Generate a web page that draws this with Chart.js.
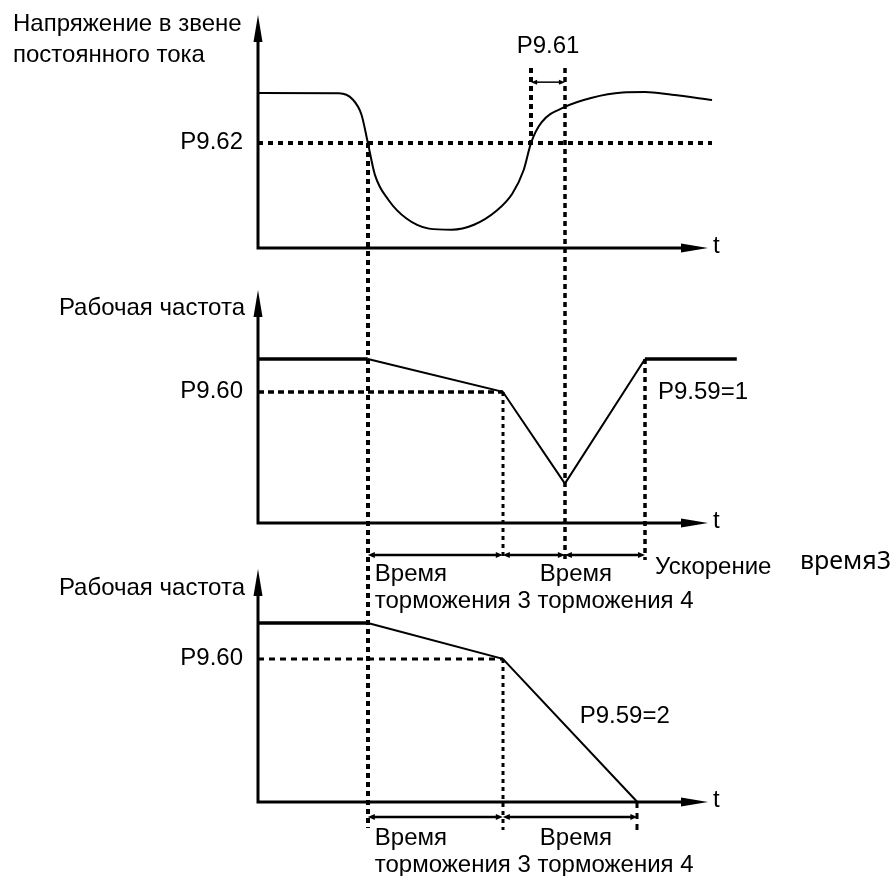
<!DOCTYPE html>
<html>
<head>
<meta charset="utf-8">
<script src="https://cdn.jsdelivr.net/npm/chart.js@4.4.1/dist/chart.umd.min.js"></script>
<style>
  html, body { margin: 0; padding: 0; background: #fff; }
  canvas { display: block; }
</style>
</head>
<body>
<canvas id="myChart" width="894" height="876"></canvas>
<script>
// DC bus voltage (% of nominal) against time (t axis runs 0..10)
const busTime    = [0, 1.8, 2.1, 2.3, 2.44, 2.6, 2.9, 3.3, 3.8, 4.3, 4.8, 5.3, 5.65, 5.9, 6.07, 6.3, 6.82, 7.4, 8.1, 8.6, 9.2, 10.09];
const busVoltage = [100, 99.8, 96, 86, 68, 47, 31, 19, 12.5, 11.8, 15, 24, 35, 50, 68, 81, 91, 96.8, 100.3, 100.6, 98.8, 95.5];

// running frequency, P9.59=1 (recovers) and P9.59=2 (stops)
const freqTime1 = [0, 2.44, 5.44, 6.82, 8.6, 10.64];
const freqHz1   = [50, 50, 40, 12, 50, 50];
const freqTime2 = [0, 2.44, 5.44, 8.43];
const freqHz2   = [50, 50, 40, 0];

// threshold levels
const levelNames = ['P9.62', 'P9.60', 'P9.61'];
const P962 = 68;      // voltage level
const P960 = 40;      // frequency level
const P961Top = 116;  // top of the P9.61 bracket, voltage units
const P961Arrow = 107;

// text
const axisTitles = [['Напряжение в звене', 'постоянного тока'], 'Рабочая частота', 'Рабочая частота'];
const modeLabels = ['P9.59=1', 'P9.59=2'];
const spanLabels = ['Время', 'торможения 3 торможения 4', 'Ускорение', 'время3'];
const timeLabel = 't';

// layout
const H = 876;
const T_END = 10;
const panels = [
    { id: 'y1', base: 248, unit: 1.55 },
    { id: 'y2', base: 523, unit: 3.28 },
    { id: 'y3', base: 802, unit: 3.58 }
];
const FONT = '24px "Liberation Sans", Arial, sans-serif';

function pts(xs, ys) {
    return xs.map(function(x, i) { return { x: x, y: ys[i] }; });
}

function yRange(p) {
    return { min: -(H - p.base) / p.unit, max: p.base / p.unit };
}

function dotted(g, x1, y1, x2, y2, w, dash) {
    g.save();
    g.strokeStyle = '#000';
    g.lineWidth = w;
    g.setLineDash(dash);
    g.beginPath();
    g.moveTo(Math.round(x1), Math.round(y1));
    g.lineTo(Math.round(x2), Math.round(y2));
    g.stroke();
    g.restore();
}

function head(g, x, y, dx, dy, len, half) {
    // tip at (x,y), pointing in direction (dx,dy)
    const bx = x - dx * len, by = y - dy * len;
    g.beginPath();
    g.moveTo(x, y);
    g.lineTo(bx - dy * half, by + dx * half);
    g.lineTo(bx + dy * half, by - dx * half);
    g.closePath();
    g.fill();
}

function dimArrow(g, xa, xb, y, w, len, half) {
    g.save();
    g.fillStyle = '#000';
    g.strokeStyle = '#000';
    g.lineWidth = w;
    g.beginPath();
    g.moveTo(xa + len - 1, y);
    g.lineTo(xb - len + 1, y);
    g.stroke();
    head(g, xa, y, -1, 0, len, half);
    head(g, xb, y, 1, 0, len, half);
    g.restore();
}

function text(g, s, x, y, align) {
    g.textAlign = align || 'left';
    g.fillText(s, x, y);
}

const diagramDecor = {
    id: 'diagramDecor',
    beforeDatasetsDraw(chart) {
        const g = chart.ctx;
        const xs = chart.scales.x, y1 = chart.scales.y1, y2 = chart.scales.y2, y3 = chart.scales.y3;
        const X = function(t) { return xs.getPixelForValue(t); };
        const tBrake = freqTime1[1], tKnee = freqTime1[2], tMin = freqTime1[3];
        const tAccEnd = freqTime1[4], tStop = freqTime2[3], tRecover = busTime[14];
        const b2 = y2.getPixelForValue(0), b3 = y3.getPixelForValue(0);

        // panel 1 guides
        dotted(g, X(0), y1.getPixelForValue(P962), X(busTime[busTime.length - 1]), y1.getPixelForValue(P962), 4, [5, 5]);
        dotted(g, X(tBrake), y1.getPixelForValue(P962), X(tBrake), b3 + 26, 4, [5, 4]);
        dotted(g, X(tRecover), y1.getPixelForValue(P961Top), X(tRecover), y1.getPixelForValue(P962), 4, [5, 4]);
        dotted(g, X(tMin), y1.getPixelForValue(P961Top), X(tMin), b2 + 37, 3.5, [5, 4]);

        // panel 2 guides
        dotted(g, X(0), y2.getPixelForValue(P960), X(tKnee), y2.getPixelForValue(P960), 3.5, [6, 4]);
        dotted(g, X(tKnee), y2.getPixelForValue(P960), X(tKnee), b2 + 37, 3, [4, 4]);
        dotted(g, X(tAccEnd), y2.getPixelForValue(freqHz1[4]), X(tAccEnd), b2 + 37, 3.5, [5, 4]);

        // panel 3 guides
        dotted(g, X(0), y3.getPixelForValue(P960), X(tKnee), y3.getPixelForValue(P960), 3, [6, 5]);
        dotted(g, X(tKnee), y3.getPixelForValue(P960), X(tKnee), b3 + 28, 3, [4, 4]);
        dotted(g, X(tStop), b3, X(tStop), b3 + 28, 3, [6, 5]);
    },
    afterDatasetsDraw(chart) {
        const g = chart.ctx;
        const xs = chart.scales.x;
        const X = function(t) { return xs.getPixelForValue(t); };
        const tBrake = freqTime1[1], tKnee = freqTime1[2], tMin = freqTime1[3];
        const tAccEnd = freqTime1[4], tStop = freqTime2[3], tRecover = busTime[14];

        g.save();
        g.fillStyle = '#000';
        g.strokeStyle = '#000';

        // axes with arrows
        panels.forEach(function(p) {
            const ys = chart.scales[p.id];
            const base = ys.getPixelForValue(0);
            const x0 = X(0), xEnd = X(T_END), top = base - 233;
            g.lineWidth = 3;
            g.lineJoin = 'miter';
            g.beginPath();
            g.moveTo(x0, top + 24);
            g.lineTo(x0, base);
            g.lineTo(xEnd - 24, base);
            g.stroke();
            head(g, x0, top, 0, -1, 27, 4.5);
            head(g, xEnd, base, 1, 0, 27, 4.5);
        });

        const y1 = chart.scales.y1, y2 = chart.scales.y2, y3 = chart.scales.y3;
        const b1 = y1.getPixelForValue(0), b2 = y2.getPixelForValue(0), b3 = y3.getPixelForValue(0);

        // dimension arrows
        dimArrow(g, X(tRecover), X(tMin), y1.getPixelForValue(P961Arrow), 1.5, 6, 2.5);
        dimArrow(g, X(tBrake), X(tKnee), b2 + 32, 2.5, 7, 3);
        dimArrow(g, X(tKnee), X(tMin), b2 + 32, 2.5, 7, 3);
        dimArrow(g, X(tMin), X(tAccEnd), b2 + 32, 2.5, 7, 3);
        dimArrow(g, X(tBrake), X(tKnee), b3 + 15, 2.5, 7, 3);
        dimArrow(g, X(tKnee), X(tStop), b3 + 15, 2.5, 7, 3);

        // labels
        g.font = FONT;
        g.textBaseline = 'middle';
        const ax = X(0);
        text(g, axisTitles[0][0], 13, b1 - 224);
        text(g, axisTitles[0][1], 13, b1 - 193);
        text(g, axisTitles[1], ax - 13, b2 - 215, 'right');
        text(g, axisTitles[2], ax - 13, b3 - 214, 'right');

        text(g, levelNames[0], ax - 15, y1.getPixelForValue(P962), 'right');
        text(g, levelNames[1], ax - 15, y2.getPixelForValue(P960), 'right');
        text(g, levelNames[1], ax - 15, y3.getPixelForValue(P960), 'right');
        text(g, levelNames[2], (X(tRecover) + X(tMin)) / 2, y1.getPixelForValue(P961Top) - 22, 'center');

        text(g, modeLabels[0], X(tAccEnd) + 13, y2.getPixelForValue(P960) + 1);
        text(g, modeLabels[1], X(7.15), y3.getPixelForValue(24));

        panels.forEach(function(p) {
            text(g, timeLabel, X(T_END) + 5, chart.scales[p.id].getPixelForValue(0) - 2);
        });

        // spans under panel 2
        text(g, spanLabels[0], X(tBrake) + 7, b2 + 51);
        text(g, spanLabels[0], X(tKnee) + 37, b2 + 51);
        text(g, spanLabels[1], X(tBrake) + 7, b2 + 78);
        text(g, spanLabels[2], X(tAccEnd) + 10, b2 + 44);
        g.font = '25px "Noto Sans", sans-serif';
        text(g, spanLabels[3], 800, b2 + 39);

        // spans under panel 3
        g.font = FONT;
        text(g, spanLabels[0], X(tBrake) + 7, b3 + 36);
        text(g, spanLabels[0], X(tKnee) + 37, b3 + 36);
        text(g, spanLabels[1], X(tBrake) + 7, b3 + 63);

        g.restore();
    }
};

function flatWidth(c) {
    return c.p0.parsed.y === c.p1.parsed.y ? 3.5 : 2;
}

function chart() {
    const ctx = document.getElementById('myChart');
    new Chart(ctx, {
        type: 'line',
        data: {
            datasets: [{
                data: pts(busTime, busVoltage),
                yAxisID: 'y1',
                borderColor: '#000',
                borderWidth: 2,
                cubicInterpolationMode: 'monotone',
                pointRadius: 0
            }, {
                data: pts(freqTime1, freqHz1),
                yAxisID: 'y2',
                borderColor: '#000',
                borderWidth: 2,
                segment: { borderWidth: flatWidth },
                pointRadius: 0
            }, {
                data: pts(freqTime2, freqHz2),
                yAxisID: 'y3',
                borderColor: '#000',
                borderWidth: 2,
                segment: { borderWidth: flatWidth },
                pointRadius: 0
            }]
        },
        options: {
            responsive: false,
            animation: false,
            layout: { padding: { left: 258, right: 141, top: 0, bottom: 0 } },
            plugins: { legend: { display: false }, tooltip: { enabled: false } },
            scales: {
                x: { type: 'linear', min: 0, max: 11, display: false },
                y1: Object.assign({ type: 'linear', display: false }, yRange(panels[0])),
                y2: Object.assign({ type: 'linear', display: false }, yRange(panels[1])),
                y3: Object.assign({ type: 'linear', display: false }, yRange(panels[2]))
            }
        },
        plugins: [diagramDecor]
    });
}

chart();
</script>
</body>
</html>
